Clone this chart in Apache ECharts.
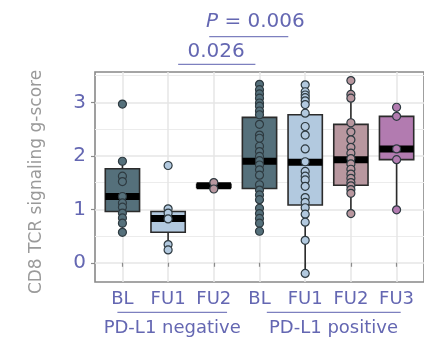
<!DOCTYPE html>
<html><head><meta charset="utf-8">
<script src="https://cdn.jsdelivr.net/npm/echarts@6/dist/echarts.min.js"></script>
<style>html,body{margin:0;padding:0;background:#fff}#c{width:424px;height:342px}</style>
</head><body><div id="c"></div>
<script>
// ---------- data ----------
const categories = ['BL', 'FU1', 'FU2', 'BL', 'FU1', 'FU2', 'FU3'];
const groupLabels = ['PD-L1 negative', 'PD-L1 positive'];
const yTickValues = [0, 1, 2, 3];
const yMinorValues = [0.5, 1.5, 2.5, 3.5];
const yTitle = 'CD8 TCR signaling g-score';
const pText1 = '0.006';
const pText2 = '0.026';

// box statistics: [lower whisker, Q1, median, Q3, upper whisker]
const statsNegBL  = [0.57, 0.96, 1.24, 1.76, 1.91];
const statsNegFU1 = [0.24, 0.57, 0.83, 0.96, 1.01];
const statsNegFU2 = [1.38, 1.41, 1.44, 1.47, 1.50];
const statsPosBL  = [0.59, 1.39, 1.90, 2.72, 3.34];
const statsPosFU1 = [-0.20, 1.08, 1.88, 2.77, 3.33];
const statsPosFU2 = [0.92, 1.45, 1.93, 2.59, 3.41];
const statsPosFU3 = [0.99, 1.93, 2.13, 2.74, 2.91];

// individual points
const ptsNegBL  = [2.97, 1.90, 1.62, 1.52, 1.24, 1.12, 1.04, 0.93, 0.84, 0.74, 0.57];
const ptsNegFU1 = [1.82, 1.01, 0.93, 0.82, 0.34, 0.24];
const ptsNegFU2 = [1.50, 1.38];
const ptsPosBL  = [3.34, 3.24, 3.16, 3.08, 2.99, 2.93, 2.84, 2.77, 2.59, 2.39, 2.33, 2.18, 2.08, 1.99, 1.91, 1.83, 1.74, 1.64, 1.46, 1.36, 1.27, 1.18, 1.02, 0.92, 0.83, 0.74, 0.59];
const ptsPosFU1 = [3.33, 3.20, 3.14, 3.09, 3.03, 2.96, 2.80, 2.55, 2.39, 2.13, 1.89, 1.71, 1.62, 1.55, 1.43, 1.22, 1.13, 1.03, 0.91, 0.76, 0.42, -0.20];
const ptsPosFU2 = [3.41, 3.15, 3.08, 2.62, 2.45, 2.30, 2.16, 2.05, 1.95, 1.85, 1.75, 1.66, 1.58, 1.50, 1.44, 1.37, 1.30, 0.92];
const ptsPosFU3 = [2.91, 2.74, 2.13, 1.93, 0.99];

// ---------- styling ----------
const fillColors = ['#55707b', '#b2c9df', '#b8979f', '#55707b', '#b2c9df', '#b8979f', '#b27bb0'];
const textBlue = '#6467b2';
const FONT = 'DejaVu Sans';

const allStats = [statsNegBL, statsNegFU1, statsNegFU2, statsPosBL, statsPosFU1, statsPosFU2, statsPosFU3];
const allPts = [ptsNegBL, ptsNegFU1, ptsNegFU2, ptsPosBL, ptsPosFU1, ptsPosFU2, ptsPosFU3];
const catPos = categories.map((c, i) => i + 1);

const boxData = allStats.map((s, i) => [catPos[i]].concat(s).concat([i]));
const scatterData = [];
allPts.forEach((arr, i) => arr.forEach(v => scatterData.push({
  value: [catPos[i], v],
  itemStyle: { color: fillColors[i] }
})));

const chart = echarts.init(document.getElementById('c'), null, { renderer: 'canvas' });
chart.setOption({
  animation: false,
  backgroundColor: '#fff',
  grid: { left: 95, right: -7.7, top: 72, bottom: 60, show: true, borderColor: '#888888', borderWidth: 1.6, backgroundColor: 'transparent' },
  xAxis: {
    type: 'value', min: 0.4, max: 7.6,
    axisLine: { show: false },
    axisTick: { show: true, customValues: catPos, length: 4, lineStyle: { color: '#8c8c8c', width: 1.2 } },
    axisLabel: { customValues: catPos, formatter: v => categories[Math.round(v) - 1], color: textBlue, fontSize: 18, fontFamily: FONT, margin: 8 },
    splitLine: { show: true, lineStyle: { color: '#e6e6e6', width: 1.5 } }
  },
  yAxis: [{
    type: 'value', min: -0.36, max: 3.57,
    axisLine: { show: false },
    axisTick: { show: true, customValues: yTickValues, length: 4, lineStyle: { color: '#8c8c8c', width: 1.2 } },
    axisLabel: { customValues: yTickValues, color: textBlue, fontSize: 20, fontFamily: FONT, margin: 9 },
    splitLine: { show: true, lineStyle: { color: '#e6e6e6', width: 1.5 } },
    name: yTitle, nameLocation: 'middle', nameRotate: 90, nameGap: 50,
    nameTextStyle: { color: '#9a9a9a', fontSize: 17, fontFamily: FONT, padding: [0, 10, 0, 0] }
  }, {
    type: 'value', min: -0.36, max: 3.57,
    axisLine: { show: false },
    axisTick: { show: false, customValues: yMinorValues },
    axisLabel: { show: false, customValues: yMinorValues },
    splitLine: { show: true, lineStyle: { color: '#ececec', width: 1.2 } }
  }],
  series: [{
    type: 'custom',
    data: boxData,
    encode: { x: 0, y: [1, 2, 3, 4, 5] },
    z: 3,
    renderItem: function (params, api) {
      const x = api.value(0);
      const lo = api.coord([x, api.value(1)]);
      const q1 = api.coord([x, api.value(2)]);
      const md = api.coord([x, api.value(3)]);
      const q3 = api.coord([x, api.value(4)]);
      const hi = api.coord([x, api.value(5)]);
      const w = api.size([0.75, 0])[0];
      const col = fillColors[api.value(6)];
      const ls = { stroke: '#2b2b2b', lineWidth: 1.6 };
      return {
        type: 'group', children: [
          { type: 'line', shape: { x1: lo[0], y1: lo[1], x2: q1[0], y2: q1[1] }, style: ls },
          { type: 'line', shape: { x1: q3[0], y1: q3[1], x2: hi[0], y2: hi[1] }, style: ls },
          { type: 'rect', shape: { x: q3[0] - w / 2, y: q3[1], width: w, height: q1[1] - q3[1] }, style: { fill: col, stroke: '#2b2b2b', lineWidth: 1.6 } },
          { type: 'rect', shape: { x: md[0] - w / 2, y: md[1] - 3.5, width: w, height: 7 }, style: { fill: '#000' } }
        ]
      };
    }
  }, {
    type: 'scatter',
    data: scatterData,
    symbol: 'circle',
    symbolSize: 8,
    z: 5,
    itemStyle: { borderColor: '#2e3a40', borderWidth: 1.2, opacity: 1 }
  }]
});

// ---------- annotations (positions in axis units, converted through the x scale) ----------
const px = v => chart.convertToPixel({ xAxisIndex: 0 }, v);
const lineStyle = { stroke: '#7d80bf', lineWidth: 1.3 };
const annoText = { fill: textBlue, fontFamily: FONT, align: 'center', verticalAlign: 'middle' };
chart.setOption({
  graphic: [
    { type: 'text', x: px(3.91), y: 22, style: Object.assign({ text: '{i|P} = ' + pText1, fontSize: 20, rich: { i: { fontStyle: 'italic', fontSize: 20, fontFamily: FONT, fill: textBlue } } }, annoText) },
    { type: 'line', shape: { x1: px(2.90), y1: 36.7, x2: px(4.63), y2: 36.7 }, style: lineStyle },
    { type: 'text', x: px(3.05), y: 52, style: Object.assign({ text: pText2, fontSize: 20 }, annoText) },
    { type: 'line', shape: { x1: px(2.22), y1: 64.3, x2: px(3.91), y2: 64.3 }, style: lineStyle },
    { type: 'line', shape: { x1: px(0.89), y1: 312.3, x2: px(3.29), y2: 312.3 }, style: lineStyle },
    { type: 'line', shape: { x1: px(4.16), y1: 312.3, x2: px(7.09), y2: 312.3 }, style: lineStyle },
    { type: 'text', x: px(2.09), y: 328, style: Object.assign({ text: groupLabels[0], fontSize: 18 }, annoText) },
    { type: 'text', x: px(5.62), y: 328, style: Object.assign({ text: groupLabels[1], fontSize: 18 }, annoText) }
  ]
});
</script>
</body></html>
